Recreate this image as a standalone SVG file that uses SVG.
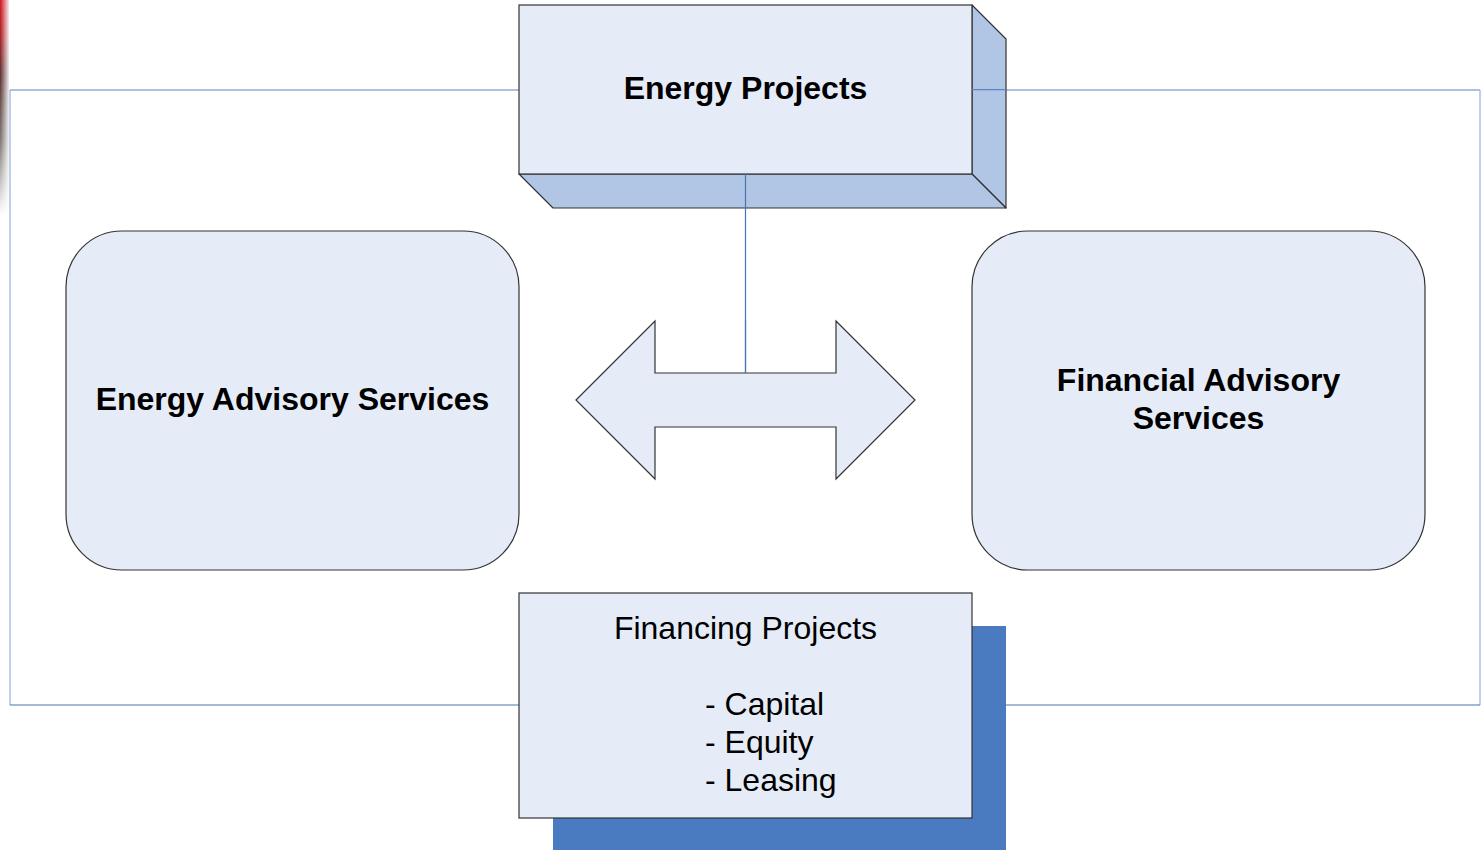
<svg xmlns="http://www.w3.org/2000/svg" width="1481" height="850" viewBox="0 0 1481 850">
  <defs>
    <linearGradient id="edge" x1="0" y1="0" x2="0" y2="1">
      <stop offset="0" stop-color="#d0141e"/>
      <stop offset="0.15" stop-color="#b01a20"/>
      <stop offset="0.35" stop-color="#5a3030"/>
      <stop offset="0.65" stop-color="#7a7470"/>
      <stop offset="1" stop-color="#ffffff"/>
    </linearGradient>
    <linearGradient id="edgeFade" x1="0" y1="0" x2="1" y2="0">
      <stop offset="0" stop-color="#fff" stop-opacity="0"/>
      <stop offset="1" stop-color="#fff" stop-opacity="0.9"/>
    </linearGradient>
    <style>
      .face { fill: #e6ecf7; stroke: #333; stroke-width: 1.2; }
      .side { fill: #b0c6e4; stroke: #333; stroke-width: 1.2; stroke-linejoin: round; }
      .conn { stroke: #4a72b8; stroke-width: 1.2; fill: none; }
      .bold { font-family: "Liberation Sans", Arial, sans-serif; font-weight: bold; font-size: 32px; fill: #000; text-anchor: middle; }
      .reg { font-family: "Liberation Sans", Arial, sans-serif; font-size: 32px; fill: #000; }
    </style>
  </defs>
  <rect width="1481" height="850" fill="#fff"/>
  <rect x="0" y="0" width="9" height="215" fill="url(#edge)"/>
  <rect x="0" y="0" width="9" height="215" fill="url(#edgeFade)"/>

  <g id="frame">
    <path d="M10,705 V90" stroke="#a9c0e4" stroke-width="1.5" fill="none"/>
    <path d="M10,90 H1480" stroke="#5b84c4" stroke-width="1.2" fill="none"/>
    <path d="M1480,90 V705" stroke="#a9c0e4" stroke-width="1.5" fill="none"/>
    <path d="M10,705 H1480" stroke="#4a72b8" stroke-width="1.2" fill="none"/>
  </g>

  <g id="energy-projects">
    <polygon class="side" points="972,5 1006,39 1006,208 972,174"/>
    <polygon class="side" points="519,174 972,174 1006,208 553,208"/>
    <rect class="face" x="519" y="5" width="453" height="169"/>
    <text class="bold" x="745.5" y="99">Energy Projects</text>
  </g>

  <g id="connectors">
    <line class="conn" x1="745.5" y1="174" x2="745.5" y2="373"/>
    <line x1="972" y1="89.6" x2="1006" y2="89.6" stroke="#5b84c4" stroke-width="1.2"/>
  </g>

  <g id="double-arrow">
    <polygon class="face" points="576,400 655,321 655,373 836,373 836,321 915,400 836,479 836,427 655,427 655,479"/>
  </g>
  <line class="conn" x1="745.5" y1="320" x2="745.5" y2="373"/>

  <g id="energy-advisory">
    <rect class="face" x="66" y="231" width="453" height="339" rx="56" ry="56"/>
    <text class="bold" x="292.5" y="410">Energy Advisory Services</text>
  </g>

  <g id="financial-advisory">
    <rect class="face" x="972" y="231" width="453" height="339" rx="56" ry="56"/>
    <text class="bold" x="1198.5" y="391">Financial Advisory</text>
    <text class="bold" x="1198.5" y="429">Services</text>
  </g>

  <g id="financing-projects">
    <rect x="553" y="626" width="453" height="224" fill="#4a7bc0"/>
    <rect class="face" x="519" y="593" width="453" height="225"/>
    <text class="reg" x="745.5" y="639" text-anchor="middle">Financing Projects</text>
    <text class="reg" x="705" y="715">- Capital</text>
    <text class="reg" x="705" y="753">- Equity</text>
    <text class="reg" x="705" y="791">- Leasing</text>
  </g>
</svg>
